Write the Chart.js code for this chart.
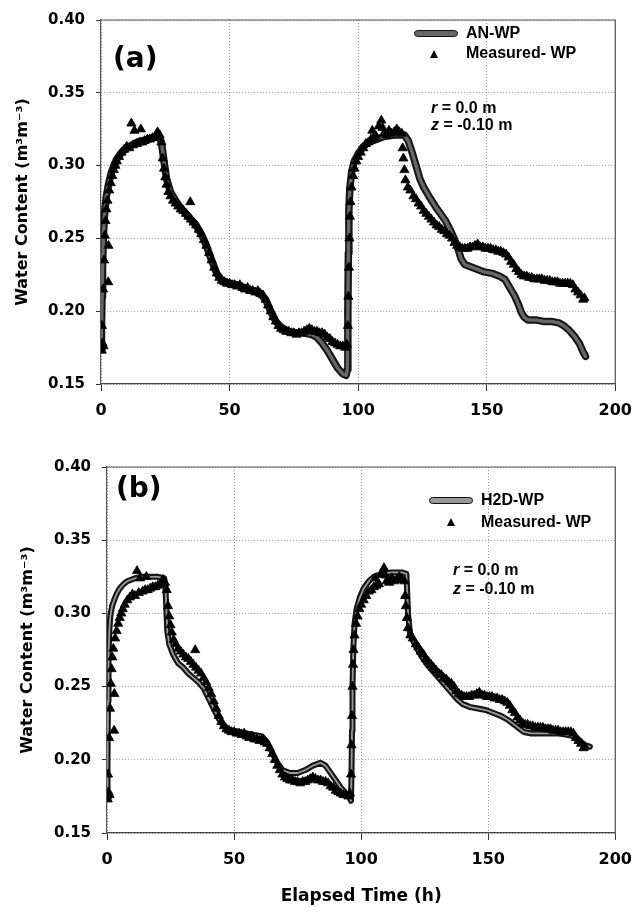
<!DOCTYPE html>
<html><head><meta charset="utf-8">
<script src="https://cdn.jsdelivr.net/npm/chart.js@4.4.1/dist/chart.umd.min.js"></script>
<style>
html,body{margin:0;padding:0;background:#fff;}
#wrap{position:relative;width:642px;height:907px;overflow:hidden;background:#fff;}
canvas{position:absolute;left:0;}
.t{position:absolute;font-family:"Liberation Sans",Arial,sans-serif;font-weight:bold;color:#000;white-space:nowrap;font-size:16px;line-height:20px;}
.p{position:absolute;font-family:"DejaVu Sans",sans-serif;font-weight:bold;color:#000;white-space:nowrap;font-size:28px;line-height:36px;}
.sw{position:absolute;width:44px;height:7px;box-sizing:border-box;border:1.5px solid #111;border-radius:4px;}
.tri{position:absolute;width:0;height:0;border-left:4.5px solid transparent;border-right:4.5px solid transparent;border-bottom:8px solid #000;}
</style></head><body>
<div id="wrap">
<canvas id="c1" width="642" height="440" style="top:0"></canvas>
<canvas id="c2" width="642" height="467" style="top:440px"></canvas>

<div class="p" style="left:113px;top:40px">(a)</div>
<div class="sw" style="left:414px;top:30px;background:#666"></div>
<div class="t" style="left:466px;top:23px">AN-WP</div>
<div class="tri" style="left:430px;top:50px"></div>
<div class="t" style="left:466px;top:43px">Measured- WP</div>
<div class="t" style="left:431px;top:98px"><i>r</i> = 0.0 m</div>
<div class="t" style="left:431px;top:115px"><i>z</i> = -0.10 m</div>

<div class="p" style="left:116px;top:470px">(b)</div>
<div class="sw" style="left:429px;top:497px;background:#999"></div>
<div class="t" style="left:481px;top:490px">H2D-WP</div>
<div class="tri" style="left:447px;top:518px"></div>
<div class="t" style="left:481px;top:512px">Measured- WP</div>
<div class="t" style="left:453px;top:560px"><i>r</i> = 0.0 m</div>
<div class="t" style="left:453px;top:579px"><i>z</i> = -0.10 m</div>
</div>
<script>
// ---- data ----
const xTicks = [0, 50, 100, 150, 200];
const yTicks = [0.15, 0.20, 0.25, 0.30, 0.35, 0.40];

const measuredTime = [0,0.3,0.6,1.0,0.4,0.8,1.2,1.5,1.8,2.1,2.5,2.8,2.9,3.2,3.8,4.4,5,5.6,6.2,7,8,9,10,11,11.8,12.5,13,14,15,15.5,16,17,18,19,20,21,22,22.8,23.5,24,24.5,25,25.5,26.2,27,28,29,30,31,32,33,34,34.7,35,36,37,38,39,40,41,42,43,44,45,46,47,48,49,50,51,52,53,54,55,56,57,58,59,60,61,62,63,64,65,66,67,68,69,70,71,72,73,74,75,76,77,78,79,80,81,82,83,84,85,86,87,88,89,90,91,92,93,94,95,95.6,96,96.2,96.4,96.6,96.8,97,97.4,98,98.6,99.3,100,101,102,103,104,105,105.5,106,107,108,109,109.5,110,111,112,113,114,115,116,117,117.3,117.6,118,118.4,119.3,120.3,121.5,122.5,123.5,124.5,125.5,126.5,127.5,128.5,129.5,130.5,131.5,132.5,133.5,134.5,135.5,136.5,137.5,138.5,139.5,140.5,141.5,142.5,143.5,144.5,145.5,146.5,147.5,148.5,149.5,150.5,151.5,152.5,153.5,154.5,155.5,156.5,157.5,158.5,159.5,160.5,161.5,162.5,163.5,164.5,165.5,166.5,167.5,168.5,169.5,170.5,171.5,172.5,173.5,174.5,175.5,176.5,177.5,178.5,179.5,180.5,181.5,182.5,183.5,184.5,185.5,186.5,187.5,188];
const measuredWC = [0.175,0.173,0.178,0.176,0.19,0.215,0.235,0.252,0.262,0.270,0.276,0.220,0.245,0.283,0.288,0.293,0.297,0.300,0.303,0.306,0.309,0.311,0.313,0.312,0.329,0.314,0.324,0.315,0.316,0.325,0.316,0.317,0.318,0.318,0.319,0.320,0.323,0.321,0.316,0.305,0.298,0.292,0.287,0.282,0.279,0.276,0.274,0.272,0.270,0.269,0.267,0.265,0.275,0.263,0.261,0.259,0.256,0.253,0.249,0.245,0.240,0.235,0.230,0.226,0.223,0.221,0.220,0.219,0.219,0.218,0.218,0.217,0.218,0.216,0.215,0.216,0.214,0.214,0.213,0.214,0.212,0.211,0.208,0.204,0.200,0.196,0.193,0.190,0.188,0.187,0.186,0.186,0.185,0.185,0.184,0.185,0.185,0.186,0.187,0.188,0.187,0.186,0.186,0.185,0.185,0.184,0.182,0.181,0.179,0.178,0.177,0.176,0.176,0.175,0.177,0.19,0.21,0.23,0.25,0.265,0.275,0.285,0.293,0.298,0.303,0.306,0.309,0.312,0.315,0.316,0.318,0.324,0.319,0.320,0.327,0.331,0.326,0.322,0.321,0.324,0.322,0.323,0.325,0.323,0.322,0.312,0.305,0.297,0.290,0.285,0.283,0.279,0.277,0.274,0.272,0.269,0.267,0.265,0.263,0.261,0.259,0.258,0.256,0.255,0.253,0.252,0.250,0.247,0.245,0.244,0.243,0.243,0.243,0.244,0.244,0.245,0.246,0.244,0.244,0.243,0.243,0.243,0.242,0.242,0.241,0.241,0.240,0.239,0.237,0.234,0.232,0.229,0.227,0.225,0.224,0.224,0.223,0.223,0.222,0.222,0.222,0.222,0.221,0.221,0.221,0.220,0.220,0.220,0.219,0.219,0.219,0.219,0.219,0.218,0.215,0.213,0.211,0.208,0.209];

const anTime = [0,0.2,0.4,0.6,0.9,1.3,2,3,4,5,6,8,10,12,14,16,18,20,22.5,23.5,24.5,25.5,27,29,31,33,35,37,39,41,43,45,47,50,53,56,59,62,64,66,68,70,73,76,79,82,84,86,88,90,92,94,95.3,95.8,96,96.2,96.4,96.8,97.5,98.5,100,102,104,107,110,114,118,119.5,121,122.5,124,125.5,127.5,130,132,134,136,137.5,139,140,141.5,143,146,149,152,155,157,159,161,162.5,163.5,164.5,166,169,172,175,178,180,182,184,186,187.5,188.4];
const anWC = [0.175,0.19,0.21,0.23,0.25,0.265,0.278,0.288,0.295,0.300,0.304,0.309,0.312,0.314,0.316,0.317,0.318,0.319,0.320,0.316,0.303,0.291,0.282,0.276,0.271,0.267,0.263,0.259,0.253,0.245,0.235,0.226,0.221,0.219,0.218,0.216,0.214,0.212,0.208,0.200,0.193,0.189,0.186,0.185,0.185,0.184,0.182,0.178,0.173,0.167,0.161,0.157,0.156,0.160,0.20,0.24,0.27,0.285,0.296,0.303,0.308,0.313,0.316,0.318,0.320,0.321,0.321,0.317,0.309,0.300,0.291,0.285,0.279,0.272,0.267,0.262,0.255,0.249,0.242,0.236,0.232,0.231,0.229,0.227,0.226,0.224,0.222,0.216,0.210,0.204,0.199,0.196,0.194,0.194,0.193,0.193,0.192,0.190,0.187,0.183,0.178,0.172,0.169];

const h2dTime = [0,0.2,0.4,0.6,0.9,1.3,2,3,4,5,6.5,8,11,14,17,20,22.5,23,23.3,23.7,24.5,26,28,30,32,34,36,38,40,42,44,46,48.5,52,55,58,61,63,65,67,69,72,75,78,81,84,86,88,90,92,94,95.5,96,96.2,96.4,96.6,96.9,97.4,98.2,99.5,101,103,105,108,112,116,117.8,118.1,118.5,119.2,120.5,122,124,126,128,130,132,134,136,138,140,143,146,149,152,155,158,161,164,167,170,174,178,181,184,186,188,190];
const h2dWC = [0.175,0.20,0.24,0.27,0.288,0.298,0.305,0.310,0.314,0.317,0.320,0.322,0.324,0.325,0.325,0.325,0.324,0.318,0.305,0.288,0.279,0.272,0.266,0.263,0.259,0.256,0.253,0.249,0.242,0.235,0.228,0.223,0.220,0.219,0.218,0.217,0.216,0.212,0.205,0.198,0.193,0.191,0.191,0.193,0.196,0.198,0.196,0.191,0.186,0.181,0.177,0.174,0.172,0.19,0.22,0.25,0.275,0.293,0.303,0.311,0.317,0.322,0.325,0.327,0.328,0.328,0.327,0.315,0.298,0.287,0.281,0.276,0.270,0.265,0.261,0.257,0.253,0.249,0.245,0.241,0.238,0.236,0.235,0.234,0.232,0.230,0.227,0.223,0.219,0.218,0.218,0.218,0.218,0.217,0.216,0.213,0.210,0.209];

// ---- chart construction ----
function pts(t, v) { return t.map((x, i) => ({x: x, y: v[i]})); }

const frame = {
  id: 'frame',
  afterDatasetsDraw(c) {
    const a = c.chartArea, ctx = c.ctx;
    ctx.save();
    ctx.strokeStyle = '#555';
    ctx.lineWidth = 1.2;
    ctx.beginPath();
    ctx.moveTo(a.left, a.top);
    ctx.lineTo(a.right, a.top);
    ctx.lineTo(a.right, a.bottom);
    ctx.stroke();
    ctx.restore();
  }
};

function build(id, lineLabel, lineT, lineV, sty, g) {
  return new Chart(document.getElementById(id), {
    type: 'scatter',
    data: {datasets: [
      {label: 'Measured- WP', data: pts(measuredTime, measuredWC), pointStyle: 'triangle',
       pointRadius: 5.3, pointHoverRadius: 5.3, backgroundColor: '#000', borderColor: '#000', borderWidth: 0.8, order: 0},
      {label: lineLabel + ' (core)', data: pts(lineT, lineV), showLine: true, pointRadius: 0, pointHoverRadius: 0,
       borderColor: sty.inner, borderWidth: sty.innerW, borderDash: sty.dash, fill: false, tension: 0, order: 1,
       borderCapStyle: 'round', borderJoinStyle: 'round'},
      {label: lineLabel, data: pts(lineT, lineV), showLine: true, pointRadius: 0, pointHoverRadius: 0,
       borderColor: '#151515', borderWidth: sty.outerW, fill: false, tension: 0, order: 2,
       borderCapStyle: 'round', borderJoinStyle: 'round'}
    ]},
    options: {
      responsive: false, animation: false, devicePixelRatio: 1,
      layout: {autoPadding: false, padding: {top: g.top, right: g.right, bottom: 0, left: 0}},
      plugins: {legend: {display: false}, tooltip: {enabled: false}},
      scales: {
        x: {
          type: 'linear', min: 0, max: 200,
          afterBuildTicks: s => { s.ticks = xTicks.map(v => ({value: v})); },
          afterFit: s => { s.height = g.xh; },
          ticks: {font: {family: 'DejaVu Sans', weight: 'bold', size: 16}, color: '#000', padding: 10,
                  callback: v => String(v), maxRotation: 0},
          grid: {color: '#9a9a9a', lineWidth: 1, tickLength: 7, tickColor: '#333', tickWidth: 1},
          border: {display: true, color: '#444', width: 1.3, dash: [1, 2]},
          title: {display: g.xTitle, text: 'Elapsed Time (h)', color: '#000',
                  font: {family: 'DejaVu Sans', weight: 'bold', size: 17}, padding: {top: 0, bottom: 0}}
        },
        y: {
          type: 'linear', min: 0.15, max: 0.40,
          afterBuildTicks: s => { s.ticks = yTicks.map(v => ({value: v})); },
          afterFit: s => { s.width = g.yw; },
          ticks: {font: {family: 'DejaVu Sans', weight: 'bold', size: 15}, color: '#000', padding: 11,
                  callback: v => Number(v).toFixed(2)},
          grid: {color: '#9a9a9a', lineWidth: 1, tickLength: 5, tickColor: '#333', tickWidth: 1},
          border: {display: true, color: '#555', width: 1.2, dash: [1, 2]},
          title: {display: true, text: 'Water Content (m\u00B3m\u207B\u00B3)', color: '#000',
                  font: {family: 'DejaVu Sans', weight: 'bold', size: 16}, padding: {top: g.yTitlePad, bottom: 0}}
        }
      }
    },
    plugins: [frame]
  });
}

build('c1', 'AN-WP', anTime, anWC,
  {inner: '#666', innerW: 3.5, dash: [2, 1.5], outerW: 7.5},
  {top: 19, right: 22, xh: 56, yw: 101, yTitlePad: 13, xTitle: false});
build('c2', 'H2D-WP', h2dTime, h2dWC,
  {inner: '#9a9a9a', innerW: 1.8, dash: [], outerW: 6},
  {top: 27, right: 16, xh: 74, yw: 107, yTitlePad: 18, xTitle: true});
</script>
</body></html>
